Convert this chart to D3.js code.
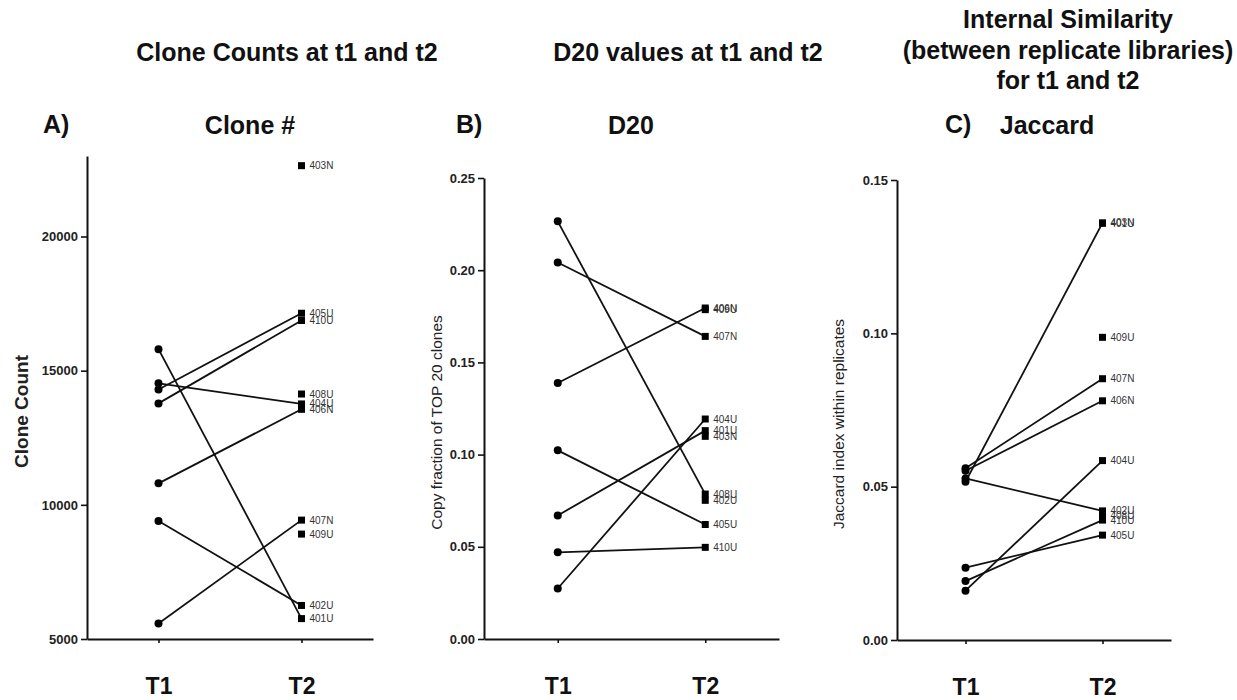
<!DOCTYPE html>
<html>
<head>
<meta charset="utf-8">
<script src="https://cdn.jsdelivr.net/npm/d3@7"></script>
<style>
  body { margin: 0; background: #fff; }
  svg { font-family: "Liberation Sans", Arial, sans-serif; }
</style>
</head>
<body>
<svg id="chart" width="1237" height="700"></svg>
<script>
// sample ids (same order in every panel)
const samples = ["401U", "402U", "403N", "404U", "405U", "406N", "407N", "408U", "409U", "410U"];
const timepoints = ["T1", "T2"];

// A) clone counts, null = no T1 value
const cloneT1 = [15800, 9400, null, 14530, 14300, 10800, 5580, null, null, 13780];
const cloneT2 = [5760, 6250, 22640, 13760, 17140, 13560, 9430, 14130, 8910, 16870];
const cloneTicks = [5000, 10000, 15000, 20000];

// B) D20 copy fraction
const d20T1 = [0.067, null, null, 0.0274, 0.1023, 0.1388, 0.2042, 0.2265, null, 0.047];
const d20T2 = [0.113, 0.0752, 0.1099, 0.1193, 0.0621, 0.1795, 0.1641, 0.0786, 0.1786, 0.0497];
const d20Ticks = [0, 0.05, 0.10, 0.15, 0.20, 0.25];

// C) Jaccard within replicates
const jacT1 = [null, 0.0527, 0.0516, 0.0161, 0.0236, 0.0552, 0.056, null, null, 0.0192];
const jacT2 = [0.1359, 0.0421, 0.136, 0.0585, 0.0342, 0.0780, 0.0852, 0.0405, 0.0987, 0.0391];
const jacTicks = [0, 0.05, 0.10, 0.15];

(function () {
    const svg = d3.select("#chart");

    // ----- titles -----
    const bold = sel => sel.attr("font-weight", "bold").attr("fill", "#111");

    svg.append("text").call(bold).attr("font-size", 25).attr("text-anchor", "middle")
        .attr("x", 287).attr("y", 61).text("Clone Counts at t1 and t2");
    svg.append("text").call(bold).attr("font-size", 25).attr("text-anchor", "middle")
        .attr("x", 688).attr("y", 61).text("D20 values at t1 and t2");
    ["Internal Similarity", "(between replicate libraries)", "for t1 and t2"].forEach((s, k) => {
        svg.append("text").call(bold).attr("font-size", 25).attr("text-anchor", "middle")
            .attr("x", 1068).attr("y", 28 + k * 30.5).text(s);
    });

    const panels = [
        { letter: "A)", lx: 43, head: "Clone #", hx: 250,
          ylab: "Clone Count", ylabX: 28, ylabBold: true, ylabSize: 19,
          left: 87, right: 373, top: 156, bottom: 639,
          domain: [5000, 23000], ticks: cloneTicks, fmt: d3.format("d"),
          t1: cloneT1, t2: cloneT2 },
        { letter: "B)", lx: 456, head: "D20", hx: 631,
          ylab: "Copy fraction of TOP 20 clones", ylabX: 442, ylabBold: false, ylabSize: 15.5,
          left: 484, right: 779, top: 178, bottom: 639,
          domain: [0, 0.25], ticks: d20Ticks, fmt: d3.format(".2f"),
          t1: d20T1, t2: d20T2 },
        { letter: "C)", lx: 945, head: "Jaccard", hx: 1047,
          ylab: "Jaccard index within replicates", ylabX: 844, ylabBold: false, ylabSize: 15.5,
          left: 897, right: 1171, top: 180, bottom: 640,
          domain: [0, 0.15], ticks: jacTicks, fmt: d3.format(".2f"),
          t1: jacT1, t2: jacT2 }
    ];

    panels.forEach(drawPanel);

    function drawPanel(p) {
        const g = svg.append("g");

        g.append("text").call(bold).attr("font-size", 25)
            .attr("x", p.lx).attr("y", 133).text(p.letter);
        g.append("text").call(bold).attr("font-size", 25).attr("text-anchor", "middle")
            .attr("x", p.hx).attr("y", 134).text(p.head);

        const x = d3.scalePoint().domain(timepoints).range([p.left, p.right]).padding(0.5);
        const y = d3.scaleLinear().domain(p.domain).range([p.bottom, p.top]);

        // y axis
        const ya = g.append("g")
            .attr("transform", `translate(${p.left},0)`)
            .call(d3.axisLeft(y).tickValues(p.ticks).tickFormat(p.fmt).tickSize(6).tickSizeOuter(0).tickPadding(3));
        // x axis
        const xa = g.append("g")
            .attr("transform", `translate(0,${p.bottom})`)
            .call(d3.axisBottom(x).tickSize(4).tickSizeOuter(0).tickPadding(35));

        [ya, xa].forEach(a => {
            a.select(".domain").attr("stroke", "#111").attr("stroke-width", 2);
            a.selectAll(".tick line").attr("stroke", "#111").attr("stroke-width", 1.6);
        });
        ya.selectAll(".tick text").attr("font-family", "Liberation Sans, Arial, sans-serif")
            .attr("font-size", 13).attr("font-weight", "bold").attr("fill", "#222");
        xa.selectAll(".tick text").attr("font-family", "Liberation Sans, Arial, sans-serif")
            .attr("font-size", 23).attr("font-weight", "bold").attr("fill", "#111");

        // y axis title
        g.append("text")
            .attr("transform", `translate(${p.ylabX},${(p.top + p.bottom) / 2 + 14}) rotate(-90)`)
            .attr("text-anchor", "middle")
            .attr("font-size", p.ylabSize)
            .attr("font-weight", p.ylabBold ? "bold" : "normal")
            .attr("fill", "#222")
            .text(p.ylab);

        const rows = samples.map((s, k) => ({ id: s, t1: p.t1[k], t2: p.t2[k] }));
        const paired = rows.filter(d => d.t1 != null);

        // lines T1 -> T2
        g.selectAll("line.pair")
            .data(paired)
            .join("line")
            .attr("class", "pair")
            .attr("x1", x("T1")).attr("y1", d => y(d.t1))
            .attr("x2", x("T2")).attr("y2", d => y(d.t2))
            .attr("stroke", "#111").attr("stroke-width", 1.8);

        // T1 circles
        g.selectAll("circle.t1")
            .data(paired)
            .join("circle")
            .attr("class", "t1")
            .attr("cx", x("T1")).attr("cy", d => y(d.t1))
            .attr("r", 4).attr("fill", "#000");

        // T2 squares + labels
        g.selectAll("rect.t2")
            .data(rows)
            .join("rect")
            .attr("class", "t2")
            .attr("x", x("T2") - 3.5).attr("y", d => y(d.t2) - 3.5)
            .attr("width", 7).attr("height", 7).attr("fill", "#000");

        g.selectAll("text.lab")
            .data(rows)
            .join("text")
            .attr("class", "lab")
            .attr("x", x("T2") + 8).attr("y", d => y(d.t2))
            .attr("dy", "0.35em")
            .attr("font-size", 10)
            .attr("fill", "#333")
            .text(d => d.id);
    }
})();
</script>
</body>
</html>
